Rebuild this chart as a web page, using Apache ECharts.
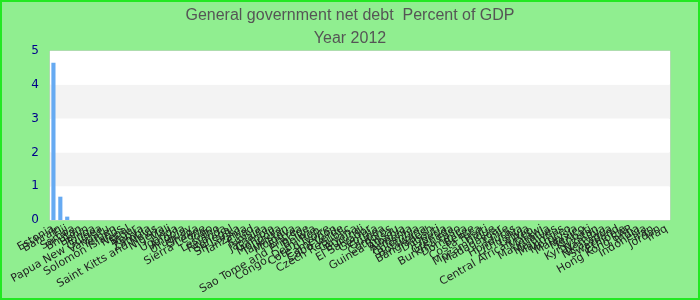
<!DOCTYPE html>
<html>
<head>
<meta charset="utf-8">
<script src="https://cdn.jsdelivr.net/npm/echarts@6/dist/echarts.min.js"></script>
<style>html,body{margin:0;padding:0;background:#90ee90;}#c{width:700px;height:300px;}</style>
</head>
<body>
<div id="c"></div>
<script>
const categories = ["Estonia","Bahrain","Fiji","Samoa","Bhutan","Benin","Tonga","Papua New Guinea","Vanuatu","Yemen","Solomon Islands","Nepal","Niger","Kenya","Zambia","Saint Kitts and Nevis","Nigeria","Mali","Uganda","Angola","Uruguay","Ghana","Sierra Leone","Togo","Lesotho","Rwanda","Senegal","Sri Lanka","Tanzania","Chad","Tunisia","Jamaica","Gambia","Mongolia","Tajikistan","Moldova","Eritrea","Sao Tome and Principe","Bolivia","Congo, Dem. Rep.","Cote d'Ivoire","Cameroon","Cabo Verde","Czech Republic","Guyana","Burundi","El Salvador","Georgia","Guinea","Comoros","Guinea-Bissau","Albania","Armenia","Colombia","Botswana","Bangladesh","Djibouti","Liberia","Grenada","Burkina Faso","Dominica","Belize","Costa Rica","Haiti","Mozambique","Madagascar","Chile","Honduras","Lithuania","Latvia","Central African Rep.","Malawi","Mauritania","Maldives","Mauritius","Morocco","Malaysia","Mexico","Kiribati","Kyrgyzstan","Namibia","Nicaragua","Swaziland","Ethiopia","Hong Kong SAR","India","Indonesia","Iran","Jordan","Iraq"];
const values = [4.65,0.69,0.1,0,0,0,0,0,0,0,0,0,0,0,0,0,0,0,0,0,0,0,0,0,0,0,0,0,0,0,0,0,0,0,0,0,0,0,0,0,0,0,0,0,0,0,0,0,0,0,0,0,0,0,0,0,0,0,0,0,0,0,0,0,0,0,0,0,0,0,0,0,0,0,0,0,0,0,0,0,0,0,0,0,0,0,0,0,0,0];
const titleText = "General government net debt  Percent of GDP";
const subtitleText = "Year 2012";

const chart = echarts.init(document.getElementById('c'), null, {renderer:'canvas'});
chart.setOption({
  backgroundColor: '#90ee90',
  animation: false,
  title: {
    text: titleText,
    subtext: subtitleText,
    left: 'center',
    top: 3,
    itemGap: 7,
    textStyle: {fontFamily: 'Liberation Sans, Arial, sans-serif', fontSize: 16, fontWeight: 'normal', color: '#555555'},
    subtextStyle: {fontFamily: 'Liberation Sans, Arial, sans-serif', fontSize: 16, color: '#555555'}
  },
  graphic: [{
    type: 'rect', z: 100, silent: true,
    shape: {x: 1, y: 1, width: 698, height: 298},
    style: {fill: 'none', stroke: '#22e822', lineWidth: 2}
  }],
  grid: {left: 50, right: 30, top: 51, bottom: 80, show: true, backgroundColor: '#ffffff', borderColor: '#cccccc', borderWidth: 1, containLabel: false, outerBoundsMode: 'none'},
  xAxis: {
    type: 'category',
    data: categories,
    axisLine: {show: false},
    axisTick: {show: false},
    axisLabel: {interval: 0, rotate: 30, fontSize: 11, color: '#222222', fontFamily: 'DejaVu Sans, sans-serif', margin: 8}
  },
  yAxis: {
    type: 'value',
    min: 0, max: 5, interval: 1,
    axisLine: {show: false},
    axisTick: {show: false},
    splitLine: {show: false},
    splitArea: {show: true, areaStyle: {color: ['#ffffff', '#f3f3f3']}},
    axisLabel: {fontSize: 12, color: '#00008b', fontFamily: 'DejaVu Sans, sans-serif', margin: 11}
  },
  series: [{
    type: 'bar',
    data: values,
    barWidth: '60%',
    itemStyle: {color: '#66aaf2'}
  }]
});
</script>
</body>
</html>
